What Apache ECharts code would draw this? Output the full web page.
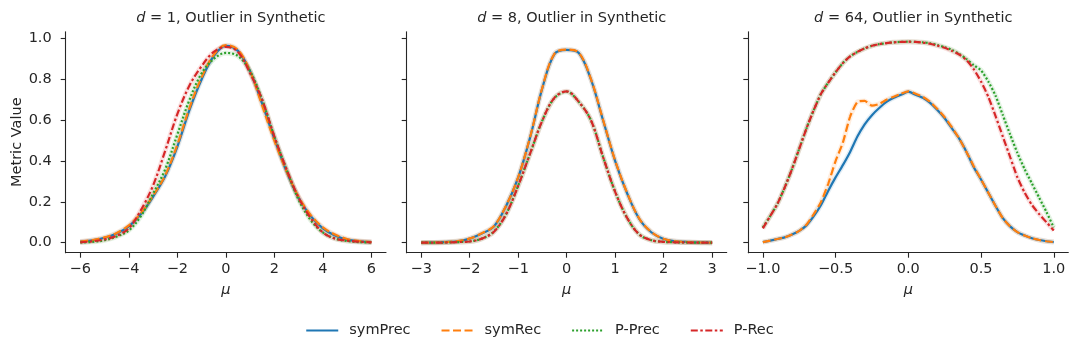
<!DOCTYPE html>
<html lang="en">
<head>
    <meta charset="UTF-8" />
    <title>Outlier in Synthetic</title>
    <script src="https://cdn.jsdelivr.net/npm/echarts@6/dist/echarts.min.js"></script>
    <style>
        html, body { margin: 0; padding: 0; background: #fff; }
        #main { width: 1079px; height: 352px; }
    </style>
</head>
<body>
<div id="main"></div>
<script>
    // ---- data ----
    var mu1 = [-6, -5.5, -5, -4.5, -4, -3.5, -3, -2.5, -2, -1.5, -1, -0.5, 0, 0.5, 1, 1.5, 2, 2.5, 3, 3.5, 4, 4.5, 5, 5.5, 6];
    var symPrec1 = [0.005, 0.012, 0.024, 0.045, 0.08, 0.14, 0.225, 0.325, 0.47, 0.65, 0.8, 0.915, 0.965, 0.94, 0.84, 0.68, 0.51, 0.35, 0.22, 0.13, 0.07, 0.035, 0.015, 0.007, 0.003];
    var symRec1 = [0.006, 0.013, 0.026, 0.048, 0.085, 0.145, 0.23, 0.33, 0.48, 0.66, 0.81, 0.92, 0.968, 0.945, 0.84, 0.67, 0.5, 0.35, 0.225, 0.135, 0.075, 0.04, 0.018, 0.008, 0.003];
    var pPrec1 = [0.001, 0.004, 0.012, 0.03, 0.06, 0.13, 0.24, 0.36, 0.53, 0.7, 0.83, 0.9, 0.93, 0.915, 0.84, 0.7, 0.52, 0.36, 0.21, 0.11, 0.05, 0.02, 0.008, 0.003, 0.001];
    var pRec1 = [0.002, 0.007, 0.016, 0.034, 0.07, 0.16, 0.28, 0.45, 0.63, 0.77, 0.865, 0.935, 0.96, 0.935, 0.83, 0.7, 0.52, 0.36, 0.22, 0.12, 0.05, 0.02, 0.01, 0.005, 0.002];

    var mu2 = [-3, -2.75, -2.5, -2.25, -2, -1.75, -1.5, -1.25, -1, -0.75, -0.5, -0.25, 0, 0.25, 0.5, 0.75, 1, 1.25, 1.5, 1.75, 2, 2.25, 2.5, 2.75, 3];
    var symPrec2 = [0, 0.001, 0.003, 0.007, 0.02, 0.045, 0.08, 0.18, 0.32, 0.52, 0.76, 0.925, 0.945, 0.93, 0.8, 0.6, 0.4, 0.24, 0.115, 0.05, 0.018, 0.007, 0.003, 0.001, 0];
    var symRec2 = [0, 0.001, 0.003, 0.008, 0.021, 0.046, 0.082, 0.182, 0.322, 0.522, 0.762, 0.927, 0.946, 0.931, 0.802, 0.602, 0.402, 0.242, 0.117, 0.051, 0.019, 0.007, 0.003, 0.001, 0];
    var pPrec2 = [0, 0, 0.001, 0.003, 0.006, 0.02, 0.055, 0.14, 0.28, 0.44, 0.6, 0.71, 0.74, 0.69, 0.6, 0.42, 0.25, 0.12, 0.04, 0.012, 0.004, 0.002, 0.001, 0, 0];
    var pRec2 = [0, 0, 0.001, 0.003, 0.006, 0.02, 0.054, 0.139, 0.279, 0.44, 0.6, 0.711, 0.742, 0.69, 0.6, 0.42, 0.249, 0.12, 0.04, 0.012, 0.004, 0.002, 0.001, 0, 0];

    var mu3 = [-1, -0.95, -0.9, -0.85, -0.8, -0.75, -0.7, -0.65, -0.6, -0.55, -0.5, -0.45, -0.4, -0.35, -0.3, -0.25, -0.2, -0.15, -0.1, -0.05, 0,
               0.05, 0.1, 0.15, 0.2, 0.25, 0.3, 0.35, 0.4, 0.45, 0.5, 0.55, 0.6, 0.65, 0.7, 0.75, 0.8, 0.85, 0.9, 0.95, 1];
    var symPrec3 = [0.003, 0.01, 0.018, 0.026, 0.04, 0.058, 0.085, 0.13, 0.185, 0.255, 0.32, 0.38, 0.445, 0.52, 0.58, 0.625, 0.66, 0.69, 0.71, 0.725, 0.74,
                    0.725, 0.71, 0.685, 0.65, 0.61, 0.56, 0.51, 0.445, 0.37, 0.31, 0.245, 0.18, 0.12, 0.08, 0.052, 0.035, 0.022, 0.013, 0.007, 0.003];
    var symRec3 = [0.003, 0.01, 0.018, 0.026, 0.04, 0.058, 0.088, 0.14, 0.2, 0.29, 0.4, 0.49, 0.618, 0.69, 0.695, 0.672, 0.68, 0.7, 0.715, 0.73, 0.742,
                   0.73, 0.715, 0.69, 0.655, 0.615, 0.565, 0.51, 0.445, 0.375, 0.31, 0.245, 0.18, 0.12, 0.08, 0.052, 0.035, 0.022, 0.013, 0.007, 0.003];
    var pPrec3 = [0.075, 0.13, 0.19, 0.27, 0.36, 0.46, 0.56, 0.65, 0.73, 0.785, 0.835, 0.88, 0.913, 0.935, 0.952, 0.965, 0.973, 0.978, 0.982, 0.984, 0.985,
                  0.984, 0.982, 0.977, 0.969, 0.958, 0.945, 0.925, 0.9, 0.87, 0.845, 0.79, 0.72, 0.625, 0.53, 0.44, 0.36, 0.29, 0.22, 0.15, 0.075];
    var pRec3 = [0.07, 0.13, 0.19, 0.27, 0.36, 0.46, 0.56, 0.65, 0.73, 0.785, 0.835, 0.88, 0.913, 0.935, 0.952, 0.965, 0.973, 0.978, 0.982, 0.984, 0.985,
                 0.984, 0.981, 0.975, 0.966, 0.955, 0.94, 0.922, 0.895, 0.85, 0.79, 0.715, 0.62, 0.52, 0.42, 0.32, 0.245, 0.185, 0.14, 0.1, 0.06];

    var xTicks1 = [-6, -4, -2, 0, 2, 4, 6];
    var xTicks2 = [-3, -2, -1, 0, 1, 2, 3];
    var xTicks3 = [-1, -0.5, 0, 0.5, 1];
    var yTicks = [0, 0.2, 0.4, 0.6, 0.8, 1.0];
    var titles = ['1', '8', '64'];
    var seriesNames = ['symPrec', 'symRec', 'P-Prec', 'P-Rec'];

    // ---- styles ----
    var colors = ['#1f77b4', '#ff7f0e', '#2ca02c', '#d62728'];
    var dashes = ['solid', [8, 3.5], [2, 2], [7, 2.5, 2.5, 2.5]];
    var font = 'DejaVu Sans';
    var fs = 14.5;
    var ink = '#262626';

    var panels = [
        { mu: mu1, ys: [symPrec1, symRec1, pPrec1, pRec1], ticks: xTicks1, min: -6.6, max: 6.6, dec: 0, smooth: 0.35, left: 65.7, width: 320.3 },
        { mu: mu2, ys: [symPrec2, symRec2, pPrec2, pRec2], ticks: xTicks2, min: -3.3, max: 3.3, dec: 0, smooth: 0.35, left: 406.7, width: 320 },
        { mu: mu3, ys: [symPrec3, symRec3, pPrec3, pRec3], ticks: xTicks3, min: -1.1, max: 1.1, dec: 1, smooth: 0.2, left: 748.3, width: 320 }
    ];

    var minus = function (s) { return s.replace('-', '\u2212'); };

    var grid = [], xAxis = [], yAxis = [], title = [], series = [];
    panels.forEach(function (p, k) {
        grid.push({ left: p.left, top: 31.7, width: p.width, height: 221 });
        title.push({
            text: '{i|d} = ' + titles[k] + ', Outlier in Synthetic',
            left: p.left + p.width / 2, top: 6, textAlign: 'center',
            textStyle: {
                fontFamily: font, fontSize: fs, fontWeight: 'normal', color: ink,
                rich: { i: { fontFamily: font, fontSize: fs, fontStyle: 'italic', color: ink } }
            }
        });
        xAxis.push({
            type: 'value', gridIndex: k, min: p.min, max: p.max,
            name: '\u03bc', nameLocation: 'middle', nameGap: 30,
            nameTextStyle: { fontFamily: font, fontSize: fs, fontStyle: 'italic', color: ink },
            splitLine: { show: false },
            axisLine: { show: true, onZero: false, lineStyle: { color: ink, width: 1.1 } },
            axisTick: { show: true, length: 5, customValues: p.ticks, lineStyle: { color: ink, width: 1.1 } },
            axisLabel: {
                customValues: p.ticks, margin: 9, fontFamily: font, fontSize: fs, color: ink,
                formatter: function (v) { return minus(Number(v).toFixed(p.dec)); }
            }
        });
        yAxis.push({
            type: 'value', gridIndex: k, min: -0.049, max: 1.034,
            name: k === 0 ? 'Metric Value' : '', nameLocation: 'middle', nameGap: 40,
            nameTextStyle: { fontFamily: font, fontSize: fs, color: ink },
            splitLine: { show: false },
            axisLine: { show: true, onZero: false, lineStyle: { color: ink, width: 1.1 } },
            axisTick: { show: true, length: 5, customValues: yTicks, lineStyle: { color: ink, width: 1.1 } },
            axisLabel: {
                show: k === 0, customValues: yTicks, margin: 14, fontFamily: font, fontSize: fs, color: ink,
                formatter: function (v) { return Number(v).toFixed(1); }
            }
        });
        // pale bands behind the lines
        p.ys.forEach(function (ys, j) {
            series.push({
                type: 'line', xAxisIndex: k, yAxisIndex: k, silent: true,
                data: p.mu.map(function (m, i) { return [m, ys[i]]; }),
                showSymbol: false, symbol: 'none', z: 1, smooth: p.smooth,
                lineStyle: { color: colors[j], width: 5, opacity: 0.13 }
            });
        });
        p.ys.forEach(function (ys, j) {
            series.push({
                name: seriesNames[j], type: 'line', xAxisIndex: k, yAxisIndex: k,
                data: p.mu.map(function (m, i) { return [m, ys[i]]; }),
                showSymbol: false, symbol: 'none', z: 2, smooth: p.smooth,
                itemStyle: { color: colors[j] },
                lineStyle: { color: colors[j], width: 2.2, type: dashes[j], cap: 'butt' }
            });
        });
    });

    var chart = echarts.init(document.getElementById('main'), null, { renderer: 'canvas' });
    chart.setOption({
        animation: false,
        backgroundColor: '#fff',
        title: title,
        grid: grid,
        xAxis: xAxis,
        yAxis: yAxis,
        legend: {
            data: seriesNames, left: 'center', top: 318,
            itemWidth: 32, itemHeight: 14, itemGap: 30,
            itemStyle: { opacity: 0 },
            textStyle: { fontFamily: font, fontSize: fs, color: ink, padding: [0, 0, 0, 6] }
        },
        series: series
    });
</script>
</body>
</html>
